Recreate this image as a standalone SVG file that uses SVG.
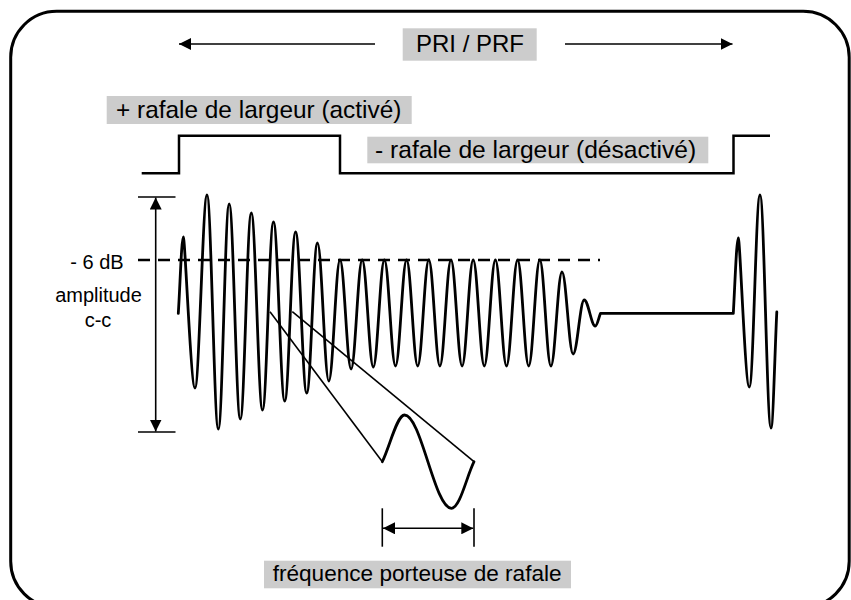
<svg xmlns="http://www.w3.org/2000/svg" width="851" height="600" viewBox="0 0 851 600">
<style>
text{font-family:"Liberation Sans",Arial,sans-serif;fill:#000}
.lbl{fill:#cccccc;stroke:none}
.thin{fill:none;stroke:#000;stroke-width:1.6}
.wave{fill:none;stroke:#000;stroke-width:2.8;stroke-linejoin:round;stroke-linecap:round}
.pulse{fill:none;stroke:#000;stroke-width:2.5}
</style>
<defs>
<marker id="ah" viewBox="0 0 12 12" refX="12" refY="6" markerWidth="12" markerHeight="12" markerUnits="userSpaceOnUse" orient="auto-start-reverse">
<path d="M0,0 L12,6 L0,12 z" fill="#000"/>
</marker>
</defs>
<rect x="10.7" y="11.3" width="838.5" height="596" rx="46" ry="46" fill="none" stroke="#000" stroke-width="3"/>

<g id="pri-prf">
<rect class="lbl" x="402.7" y="28.3" width="134" height="32.4"/>
<text x="470" y="52.3" font-size="24" text-anchor="middle">PRI / PRF</text>
</g>
<g id="burst-on-label">
<rect class="lbl" x="106.7" y="96" width="305" height="28"/>
<text x="116" y="117.5" font-size="24.4">+ rafale de largeur (activé)</text>
</g>
<g id="burst-off-label">
<rect class="lbl" x="367.3" y="136.7" width="341" height="26.6"/>
<text x="375" y="157.5" font-size="24.6">- rafale de largeur (désactivé)</text>
</g>
<g id="gate-pulse">
<path class="pulse" d="M141.7,173.3 H179 V135.7 H340 V173.3 H733.5 V135.7 H770"/>
</g>
<g id="amplitude-label">
<text x="97" y="268.5" font-size="20" text-anchor="middle">- 6 dB</text>
<text x="98.5" y="301.7" font-size="20" text-anchor="middle">amplitude</text>
<text x="98" y="326.5" font-size="20" text-anchor="middle">c-c</text>
</g>
<g id="waveform">
<path class="wave" d="M178.3,313.3 C180,288 181.5,237 183.3,237 S190.9,388 195,388 S202.9,195 207,195 S214.2,429 218.3,429 S225.1,204 229.2,204 S236.2,419 240.3,419 S247.2,213 251.3,213 S258.4,410 262.5,410 S269.4,222 273.5,222 S280.6,401 284.7,401 S291.5,232 295.6,232 S302.6,393 306.7,393 S313.4,243 317.5,243 S324.7,381 328.8,381 S335.9,260 340,260 S347,369 351.1,369 S358.1,260 362.2,260 S369.2,367 373.3,367 S380.3,260 384.4,260 S391.4,366 395.5,366 S402.5,260 406.6,260 S413.6,366 417.7,366 S424.7,260 428.8,260 S435.8,366 439.9,366 S446.9,260 451,260 S458,366 462.1,366 S469.1,260 473.2,260 S480.2,366 484.3,366 S491.3,260 495.4,260 S502.4,366 506.5,366 S513.5,260 517.6,260 S524.6,366 528.7,366 S535.7,260 539.8,260 S546.8,366 550.9,366 S557.9,272 562,272 S569,354 573.1,354 S580.1,300 584.2,300 S591.2,326 595.3,326 C597.2,326 598.8,317.2 600.5,313.3 L733.3,313.3 C734.8,288 736.5,238 738.3,238 S745.2,387 749.3,387 S755.9,195 760,195 S766.9,428 771,428 C773.1,428 774.9,350 776.8,312"/>
</g>
<g id="zoom-detail">
<path class="wave" d="M382.3,461.7 C389.8,446.3 397,415 404.5,415 C421.2,415 434.5,508.3 451.5,508.3 C459.8,508.3 466.5,477 474,461.7"/>
</g>
<g id="connectors">
<line class="thin" x1="375" y1="44" x2="179" y2="44" marker-end="url(#ah)"/>
<line class="thin" x1="565" y1="44" x2="732.5" y2="44" marker-end="url(#ah)"/>
<line class="thin" x1="138" y1="197" x2="175.5" y2="197"/>
<line class="thin" x1="138" y1="432" x2="175.5" y2="432"/>
<line class="thin" x1="155.7" y1="197.5" x2="155.7" y2="431.5" marker-start="url(#ah)" marker-end="url(#ah)"/>
<line x1="138" y1="260" x2="600" y2="260" stroke="#000" stroke-width="2.5" stroke-dasharray="12,8"/>
<line class="thin" x1="270" y1="311.7" x2="382.3" y2="461.7"/>
<line class="thin" x1="292.3" y1="311.7" x2="474" y2="461.7"/>
<line class="thin" x1="382.3" y1="508.3" x2="382.3" y2="546.7"/>
<line class="thin" x1="474" y1="508.3" x2="474" y2="546.7"/>
<line class="thin" x1="383" y1="528.3" x2="473.3" y2="528.3" marker-start="url(#ah)" marker-end="url(#ah)"/>
</g>
<g id="carrier-label">
<rect class="lbl" x="264" y="560.7" width="307" height="27.6"/>
<text x="272.7" y="580.7" font-size="22.6">fréquence porteuse de rafale</text>
</g>
</svg>
